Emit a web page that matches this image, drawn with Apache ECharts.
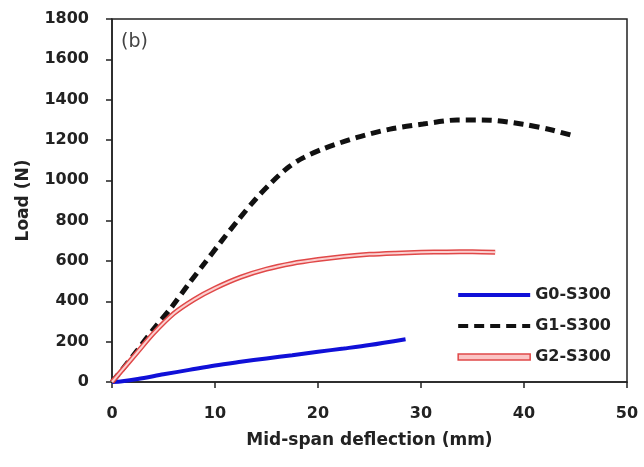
<!DOCTYPE html>
<html>
<head>
<meta charset="utf-8">
<script src="https://cdn.jsdelivr.net/npm/echarts@6/dist/echarts.min.js"></script>
<style>
  html, body { margin: 0; padding: 0; background: #fff; }
  #chart { width: 644px; height: 467px; }
</style>
</head>
<body>
<div id="chart"></div>
<script>
// 曲线数据 [挠度 mm, 荷载 N]
var g0 = [[0, 0], [1, 4], [2.5, 15], [5, 38], [7.5, 60], [10, 82], [12.5, 100], [15, 117],
          [17.5, 133], [20, 150], [22.5, 166], [25, 183], [28.5, 212]];
var g1 = [[0, 0], [1, 62], [2.5, 160], [4, 260], [5.8, 372], [7.5, 490], [9, 590], [10.5, 690],
          [12.2, 800], [14, 910], [15.5, 990], [17, 1060], [18.5, 1110], [20.5, 1156],
          [23.8, 1213], [27, 1254], [30.2, 1279], [33.5, 1299], [36.7, 1298],
          [39.9, 1278], [42.5, 1252], [44.5, 1225]];
var g2 = [[0, 0], [1, 60], [2.5, 150], [4, 240], [6, 340], [8, 410], [10, 465], [12.5, 520],
          [15, 560], [17.5, 588], [20, 607], [22.5, 622], [25, 633], [27.5, 639], [30, 643],
          [32.5, 645], [35, 646], [37.2, 643]];
var xTicks = [0, 10, 20, 30, 40, 50];
var yTicks = [0, 200, 400, 600, 800, 1000, 1200, 1400, 1600, 1800];

var chart = echarts.init(document.getElementById('chart'));

var boldFont = {
  fontFamily: 'DejaVu Sans',
  fontWeight: 'bold',
  fontSize: 16,
  color: '#222'
};

var option = {
  backgroundColor: '#fff',
  animation: false,
  grid: {
    left: 112, right: 17, top: 19, bottom: 85,
    show: true,
    borderColor: '#222',
    borderWidth: 1.5
  },
  graphic: [{
    type: 'text',
    left: 121, top: 33,
    style: { text: '(b)', fontFamily: 'DejaVu Sans', fontSize: 19, fill: '#444' }
  }],
  legend: {
    right: 28, top: 282,
    orient: 'vertical',
    itemGap: 15,
    itemWidth: 72,
    itemHeight: 6,
    itemStyle: { opacity: 0 },
    lineStyle: { width: 4 },
    textStyle: Object.assign({}, boldFont),
    data: [
      { name: 'G0-S300' },
      { name: 'G1-S300' },
      { name: 'G2-S300', icon: 'rect', itemStyle: { opacity: 1, color: '#fbc4c4', borderColor: '#e04848', borderWidth: 1.5 } }
    ]
  },
  xAxis: {
    type: 'value',
    min: 0, max: 50, interval: 10,
    name: 'Mid-span deflection (mm)',
    nameLocation: 'middle',
    nameGap: 50,
    nameTextStyle: Object.assign({}, boldFont, { fontSize: 17 }),
    axisLine: { lineStyle: { color: '#222', width: 1.5 } },
    axisTick: { inside: false, length: 6, lineStyle: { color: '#222', width: 1.5 } },
    axisLabel: Object.assign({ margin: 24, formatter: function (v) { return String(v); } }, boldFont),
    splitLine: { show: false }
  },
  yAxis: {
    type: 'value',
    min: 0, max: 1800, interval: 200,
    name: 'Load (N)',
    nameLocation: 'middle',
    nameGap: 80,
    nameTextStyle: Object.assign({}, boldFont, { fontSize: 17 }),
    axisLine: { lineStyle: { color: '#222', width: 1.5 } },
    axisTick: { inside: false, length: 6, lineStyle: { color: '#222', width: 1.5 } },
    axisLabel: Object.assign({ margin: 23, formatter: function (v) { return String(v); } }, boldFont),
    splitLine: { show: false }
  },
  series: [
    {
      name: 'G0-S300', type: 'line', data: g0, smooth: 0.3, symbol: 'none',
      lineStyle: { color: '#1010d8', width: 4 },
      itemStyle: { color: '#1010d8' }
    },
    {
      name: 'G1-S300', type: 'line', data: g1, smooth: 0.3, symbol: 'none',
      lineStyle: { color: '#111', width: 5, type: [10, 6] },
      itemStyle: { color: '#111' }
    },
    {
      // 红色外框
      name: 'G2-S300', type: 'line', data: g2, smooth: 0.3, symbol: 'none',
      lineStyle: { color: '#e04848', width: 5 },
      itemStyle: { color: '#e04848' }
    },
    {
      // 内部浅粉色
      name: 'G2-S300', type: 'line', data: g2, smooth: 0.3, symbol: 'none',
      lineStyle: { color: '#fbd0d0', width: 2 },
      itemStyle: { color: '#fbd0d0' }
    }
  ]
};

chart.setOption(option);
</script>
</body>
</html>
